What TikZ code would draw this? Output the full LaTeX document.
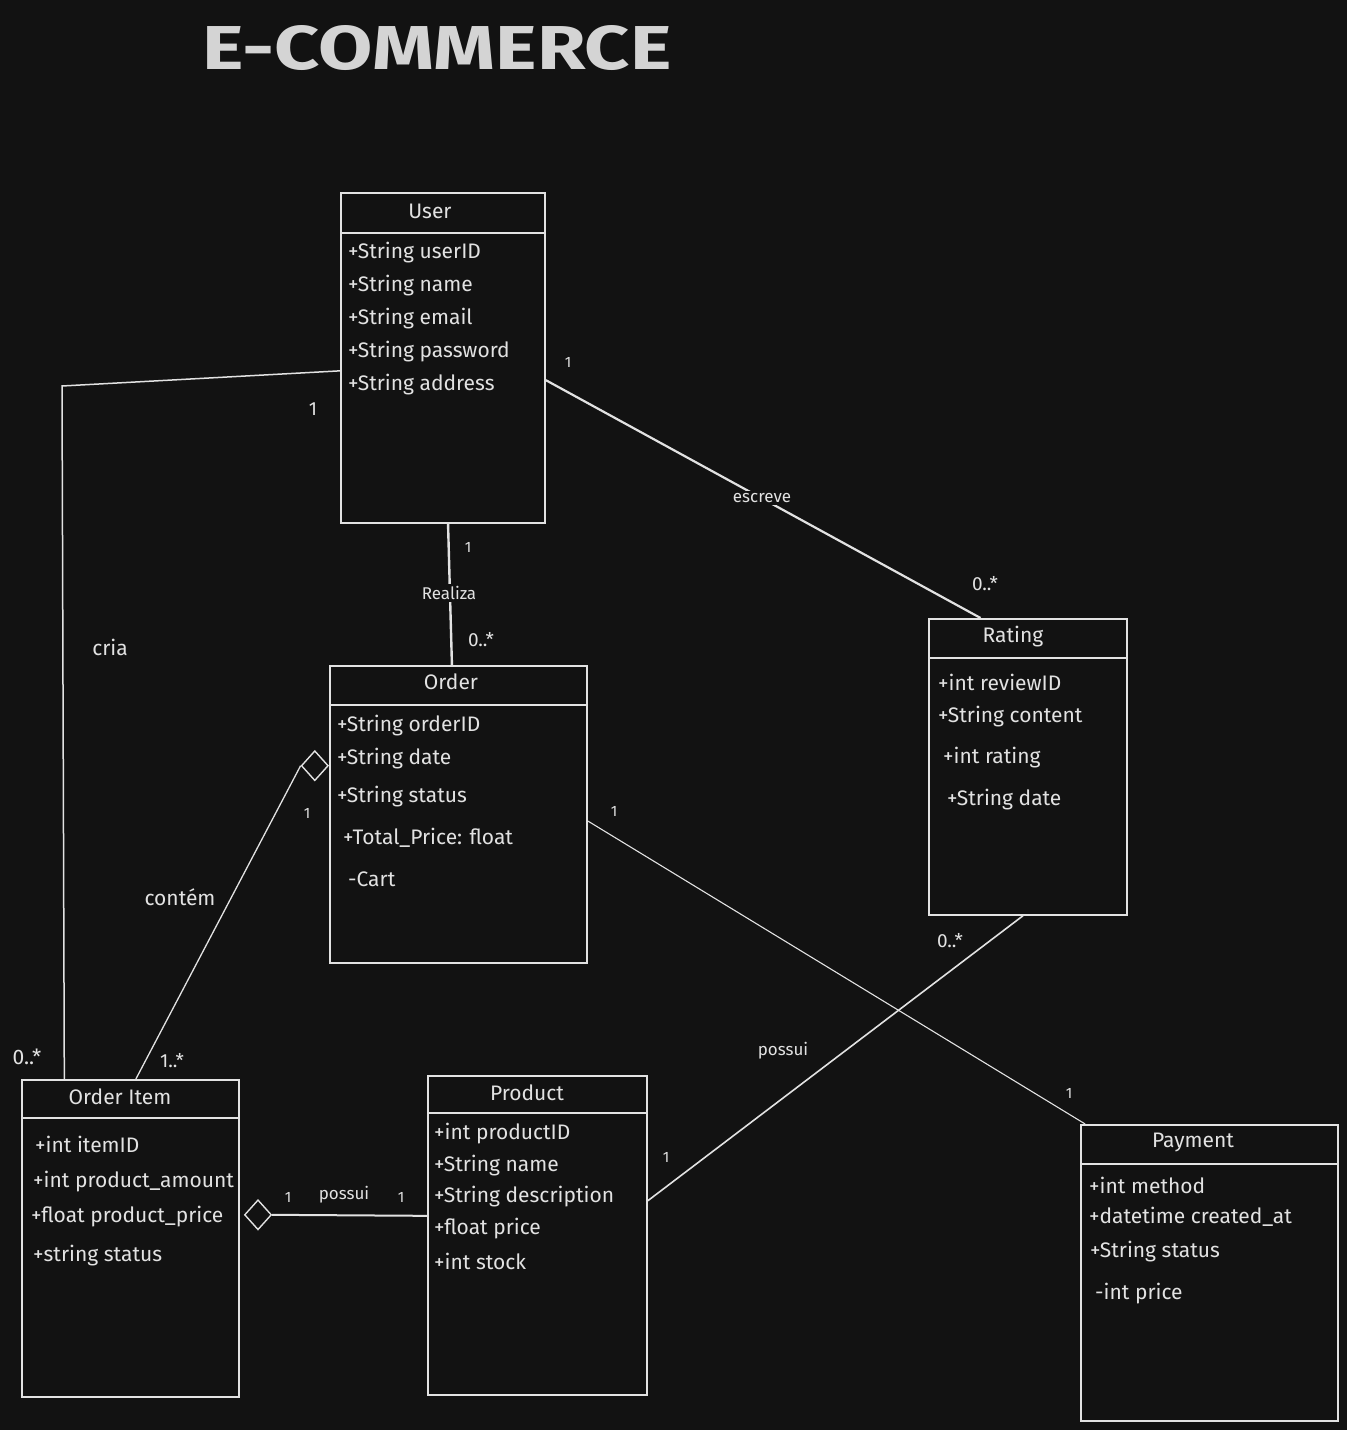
\documentclass[tikz,border=0pt]{standalone}
\usepackage{fontspec}
\usepackage{graphicx}
\setmainfont{Fira Sans}
\usetikzlibrary{calc,shapes.geometric}
\definecolor{bg}{HTML}{121212}
\definecolor{fg}{HTML}{E2E2E2}
\definecolor{titlec}{HTML}{D4D4D4}
\begin{document}
\begin{tikzpicture}[x=1pt,y=-1pt,
  umlbox/.style={draw=fg, line width=1.8pt, rectangle, anchor=north west, inner sep=0pt},
  hdr/.style={draw=fg, line width=1.4pt},
  cname/.style={text=fg, font=\fontsize{21}{23}\selectfont, inner sep=0pt},
  attr/.style={text=fg, font=\fontsize{21}{23}\selectfont, anchor=west, inner sep=0pt},
  conn/.style={draw=fg, line width=1.8pt},
  thin/.style={draw=fg, line width=1.1pt},
  mult/.style={text=fg, font=\fontsize{15}{17}\selectfont, inner sep=0pt},
  lbl/.style={text=fg, font=\fontsize{17}{19}\selectfont, inner sep=2pt},
  biglbl/.style={text=fg, font=\fontsize{21}{23}\selectfont, inner sep=0pt},
  agg/.style={draw=fg, line width=1.4pt, fill=bg, diamond, shape aspect=0.9, inner sep=0pt, minimum width=27pt, minimum height=30pt}
]
\fill[bg] (0,0) rectangle (1347,1430);
\useasboundingbox (0,0) rectangle (1347,1430);

% title
\node[text=titlec, font=\fontsize{62}{64}\selectfont\bfseries] (title) at (437,48) {\scalebox{1.27}[1]{E-COMMERCE}};

% boxes
\node[umlbox, minimum width=204pt, minimum height=330pt] (user) at (340,192) {};
\node[umlbox, minimum width=257pt, minimum height=297pt] (order) at (329,665) {};
\node[umlbox, minimum width=198pt, minimum height=296pt] (rating) at (928,618) {};
\node[umlbox, minimum width=217pt, minimum height=317pt] (item) at (21,1079) {};
\node[umlbox, minimum width=219pt, minimum height=319pt] (product) at (427,1075) {};
\node[umlbox, minimum width=257pt, minimum height=296pt] (payment) at (1080,1124) {};

% header dividers
\draw[hdr] ($(user.north west)+(0,41)$) -- ($(user.north east)+(0,41)$);
\draw[hdr] ($(order.north west)+(0,40)$) -- ($(order.north east)+(0,40)$);
\draw[hdr] ($(rating.north west)+(0,40)$) -- ($(rating.north east)+(0,40)$);
\draw[hdr] ($(item.north west)+(0,39)$) -- ($(item.north east)+(0,39)$);
\draw[hdr] ($(product.north west)+(0,38)$) -- ($(product.north east)+(0,38)$);
\draw[hdr] ($(payment.north west)+(0,40)$) -- ($(payment.north east)+(0,40)$);

% class names
\node[cname] (userT) at (430,211) {User};
\node[cname] (orderT) at (451,682) {Order};
\node[cname] (ratingT) at (1013,637) {Rating};
\node[cname] (itemT) at (120,1097) {Order Item};
\node[cname] (productT) at (527,1093) {Product};
\node[cname] (paymentT) at (1193,1142) {Payment};

% attributes
\node[attr] (u1) at (348,253) {+String userID};
\node[attr] (u2) at (348,286) {+String name};
\node[attr] (u3) at (348,319) {+String email};
\node[attr] (u4) at (348,352) {+String password};
\node[attr] (u5) at (348,385) {+String address};

\node[attr] (o1) at (337,726) {+String orderID};
\node[attr] (o2) at (337,759) {+String date};
\node[attr] (o3) at (337,797) {+String status};
\node[attr] (o4) at (343,838) {+Total\_Price: float};
\node[attr] (o5) at (348,879) {-Cart};

\node[attr] (r1) at (938,682) {+int reviewID};
\node[attr] (r2) at (938,717) {+String content};
\node[attr] (r3) at (943,758) {+int rating};
\node[attr] (r4) at (947,800) {+String date};

\node[attr] (i1) at (35,1144) {+int itemID};
\node[attr] (i2) at (33,1182) {+int product\_amount};
\node[attr] (i3) at (31,1217) {+float product\_price};
\node[attr] (i4) at (33,1256) {+string status};

\node[attr] (p1) at (434,1134) {+int productID};
\node[attr] (p2) at (434,1166) {+String name};
\node[attr] (p3) at (434,1197) {+String description};
\node[attr] (p4) at (434,1229) {+float price};
\node[attr] (p5) at (434,1261) {+int stock};

\node[attr] (y1) at (1089,1185) {+int method};
\node[attr] (y2) at (1089,1217) {+datetime created\_at};
\node[attr] (y3) at (1090,1252) {+String status};
\node[attr] (y4) at (1095,1294) {-int price};

% connection points
\coordinate (uL) at ($(user.north west)!0.539!(user.south west)$);
\coordinate (uB) at ($(user.south west)!0.525!(user.south east)$);
\coordinate (uR) at ($(user.north east)!0.567!(user.south east)$);
\coordinate (oT) at ($(order.north west)!0.475!(order.north east)$);
\coordinate (oL) at ($(order.north west)!0.337!(order.south west)$);
\coordinate (oR) at ($(order.north east)!0.522!(order.south east)$);
\coordinate (rT) at ($(rating.north west)!0.263!(rating.north east)$);
\coordinate (rB) at ($(rating.south west)!0.475!(rating.south east)$);
\coordinate (iT1) at ($(item.north west)!0.198!(item.north east)$);
\coordinate (iT2) at ($(item.north west)!0.525!(item.north east)$);
\coordinate (iR) at ($(item.north east)!0.426!(item.south east)$);
\coordinate (pL) at ($(product.north west)!0.439!(product.south west)$);
\coordinate (pR) at ($(product.north east)!0.392!(product.south east)$);
\coordinate (yT) at ($(payment.north west)!0.02!(payment.north east)$);
\coordinate (bend) at (62,386);

% cria
\draw[conn, line width=1.5pt] (uL) -- (bend) -- (iT1);
\node[mult, font=\fontsize{19}{21}\selectfont] (m1) at (313,409) {1};
\node[biglbl] (lcria) at (110,647) {cria};
\node[mult, font=\fontsize{21}{23}\selectfont] (m2) at (27,1057) {0..*};

% Realiza
\draw[conn, line width=2.4pt] (uB) -- (oT);
\node[lbl, fill=bg] (lreal) at (449,593) {Realiza};
\node[mult] (m3) at (468,547) {1};
\node[mult, font=\fontsize{19}{21}\selectfont] (m4) at (481,640) {0..*};

% escreve
\draw[conn, line width=2.2pt] (uR) -- (rT);
\node[lbl, fill=bg] (lesc) at (762,498) {escreve};
\node[mult] (m5) at (568,362) {1};
\node[mult, font=\fontsize{19}{21}\selectfont] (m6) at (985,584) {0..*};

% contém (aggregation)
\node[agg, anchor=east] (d1) at (oL) {};
\draw[thin, line width=1.3pt] (d1.west) -- (iT2);
\node[mult] (m7) at (307,813) {1};
\node[biglbl] (lcont) at (180,897) {contém};
\node[mult, font=\fontsize{19}{21}\selectfont] (m8) at (172,1061) {1..*};

% possui (item-product)
\node[agg, anchor=west] (d2) at ($(iR)+(4,0)$) {};
\draw[conn, line width=2.0pt] (d2.east) -- (pL);
\node[mult] (m9) at (288,1197) {1};
\node[lbl] (lpos1) at (344,1195) {possui};
\node[mult] (m10) at (401,1197) {1};

% order-payment
\draw[thin] (oR) -- (yT);
\node[mult] (m11) at (614,811) {1};
\node[mult] (m12) at (1069,1093) {1};

% product-rating
\draw[conn, line width=1.6pt] (pR) -- (rB);
\node[mult] (m13) at (666,1157) {1};
\node[lbl] (lpos2) at (783,1051) {possui};
\node[mult, font=\fontsize{19}{21}\selectfont] (m14) at (950,941) {0..*};
\end{tikzpicture}
\end{document}
